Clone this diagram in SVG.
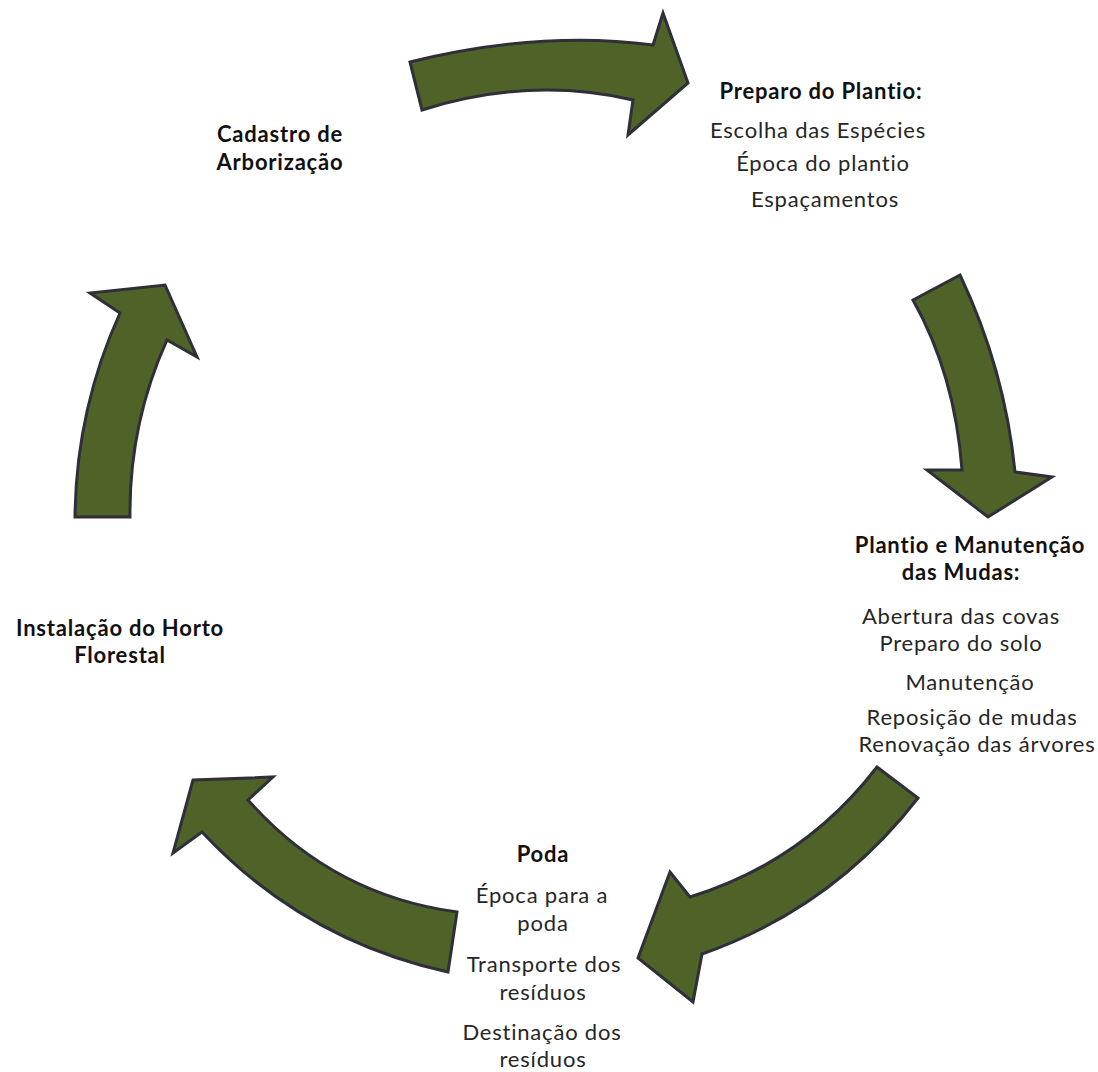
<svg xmlns="http://www.w3.org/2000/svg" width="1098" height="1072" viewBox="0 0 1098 1072">
<style>
.arrow{fill:#4f6228;stroke:#2f2f3a;stroke-width:3;stroke-linejoin:miter}
text{font-family:Lato,"Liberation Sans",sans-serif;font-size:22px;letter-spacing:0.8px;font-variant-ligatures:none;text-anchor:middle;fill:#262626}
.b{font-weight:bold;fill:#111}
</style>
<rect width="1098" height="1072" fill="#fff"/>
<g id="connectors">
<path id="a1" class="arrow" d="M410,62 Q540,30 653,45 L663,13 L688,83 L628,135 L633,100 Q530,76 422,110 Z"/>
<path id="a2" class="arrow" d="M960,275 Q1005,370 1015,472 L1052,477 L988,517 L927,470 L962,470 Q955,375 913,300 Z"/>
<path id="a3" class="arrow" d="M877,767 L918,798 Q833,908 702,954 L693,1002 L638,958 L670,872 L690,897 Q804,862 877,767 Z"/>
<path id="a4" class="arrow" d="M457,912 L448,972 Q303,940 202,832 L173,853 L193,780 L273,777 L248,800 Q332,895 457,912 Z"/>
<path id="a5" class="arrow" d="M75,517 L130,517 Q129,424 167,340 L197,357 L165,285 L90,293 L120,313 Q76,410 75,517 Z"/>
</g>
<g id="cadastro">
<text class="b" x="280" y="142">Cadastro de</text>
<text class="b" x="280" y="170">Arborização</text>
</g>
<g id="preparo">
<text class="b" x="821" y="99">Preparo do Plantio:</text>
<text x="818" y="138">Escolha das Espécies</text>
<text x="823" y="171">Época do plantio</text>
<text x="825" y="207">Espaçamentos</text>
</g>
<g id="plantio">
<text class="b" x="970" y="553">Plantio e Manutenção</text>
<text class="b" x="961" y="580">das Mudas:</text>
<text x="961" y="624">Abertura das covas</text>
<text x="961" y="651">Preparo do solo</text>
<text x="970" y="690">Manutenção</text>
<text x="972" y="725">Reposição de mudas</text>
<text x="977" y="752">Renovação das árvores</text>
</g>
<g id="poda">
<text class="b" x="543" y="862">Poda</text>
<text x="542" y="903">Época para a</text>
<text x="543" y="931">poda</text>
<text x="544" y="972">Transporte dos</text>
<text x="543" y="1000">resíduos</text>
<text x="542" y="1040">Destinação dos</text>
<text x="543" y="1067">resíduos</text>
</g>
<g id="horto">
<text class="b" x="120" y="636">Instalação do Horto</text>
<text class="b" x="120" y="663">Florestal</text>
</g>
</svg>
